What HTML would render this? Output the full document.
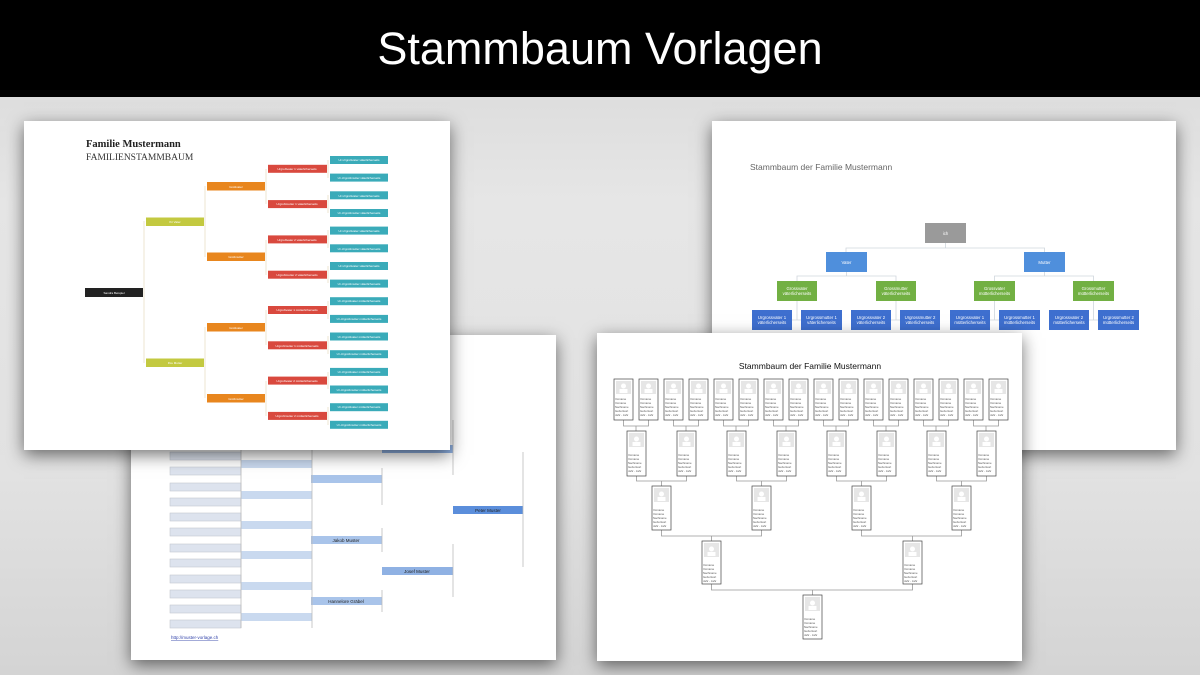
<!DOCTYPE html>
<html><head><meta charset="utf-8"><style>
html,body{margin:0;padding:0}
body{width:1200px;height:675px;position:relative;overflow:hidden;background:linear-gradient(#d6d6d6,#e6e6e6 30%,#e2e2e2 70%,#d4d4d4);font-family:"Liberation Sans",sans-serif}
#bar{position:absolute;left:0;top:0;width:1200px;height:97px;background:#000;color:#fff;font-size:45px;text-align:center;line-height:97px}
.pg{position:absolute;background:#fff;box-shadow:0 5px 16px rgba(0,0,0,.55)}
.pg svg{position:absolute;left:0;top:0}
</style></head><body>
<div id="bar">Stammbaum Vorlagen</div>

<!-- Page B -->
<div class="pg" style="left:131px;top:335px;width:425px;height:325px">
<svg width="425" height="325" viewBox="131 335 425 325" font-family="Liberation Sans, sans-serif">
<g fill="#dde3ee" stroke="#c4c8d0" stroke-width=".6">
<rect x="170" y="452" width="71" height="8"/><rect x="170" y="467" width="71" height="8"/><rect x="170" y="483" width="71" height="8"/><rect x="170" y="498" width="71" height="8"/><rect x="170" y="513" width="71" height="8"/><rect x="170" y="528" width="71" height="8"/><rect x="170" y="544" width="71" height="8"/><rect x="170" y="559" width="71" height="8"/><rect x="170" y="575" width="71" height="8"/><rect x="170" y="590" width="71" height="8"/><rect x="170" y="605" width="71" height="8"/><rect x="170" y="620" width="71" height="8"/>
</g>
<g fill="#c9d9ef"><rect x="241" y="460" width="71" height="8"/><rect x="241" y="491" width="71" height="8"/><rect x="241" y="521" width="71" height="8"/><rect x="241" y="551" width="71" height="8"/><rect x="241" y="582" width="71" height="8"/><rect x="241" y="613" width="71" height="8"/></g>
<g fill="#a9c4ea"><rect x="311" y="475" width="71" height="8"/><rect x="311" y="536" width="71" height="8"/><rect x="311" y="597" width="71" height="8"/></g>
<g fill="#8fb1e3"><rect x="382" y="445" width="71" height="8"/><rect x="382" y="567" width="71" height="8"/></g>
<rect x="453" y="506" width="70" height="8" fill="#5b8edb"/>
<g stroke="#bbb" stroke-width=".8">
<line x1="241" y1="450" x2="241" y2="628"/><line x1="312" y1="450" x2="312" y2="628"/>
<line x1="382" y1="468" x2="382" y2="505"/><line x1="382" y1="528" x2="382" y2="552"/><line x1="382" y1="590" x2="382" y2="612"/>
<line x1="453" y1="420" x2="453" y2="475"/><line x1="453" y1="544" x2="453" y2="597"/>
<line x1="523" y1="452" x2="523" y2="567"/>
</g>
<g font-size="4.5" fill="#222" text-anchor="middle">
<text x="346" y="542">Jakob Muster</text><text x="346" y="603">Hannelore Gräbel</text><text x="417" y="573">Josef Muster</text><text x="488" y="512">Peter Muster</text>
</g>
<text x="171" y="639" font-size="4.5" fill="#3344aa" text-decoration="underline">http://muster-vorlage.ch</text>
</svg></div>

<!-- Page A -->
<div class="pg" style="left:24px;top:121px;width:426px;height:329px">
<svg width="426" height="329" viewBox="24 121 426 329">
<text x="86" y="147" font-family="Liberation Serif, serif" font-weight="bold" font-size="10.5" fill="#222">Familie Mustermann</text>
<text x="86" y="160" font-family="Liberation Serif, serif" font-size="9.5" fill="#333">FAMILIENSTAMMBAUM</text>
<g stroke="#eadfc6" stroke-width=".8" fill="none">
<line x1="144" y1="221" x2="144" y2="363"/>
<line x1="205" y1="186" x2="205" y2="257"/><line x1="205" y1="327" x2="205" y2="398"/>
<line x1="266" y1="169" x2="266" y2="204"/><line x1="266" y1="240" x2="266" y2="275"/><line x1="266" y1="310" x2="266" y2="345"/><line x1="266" y1="381" x2="266" y2="416"/>
<line x1="328" y1="160" x2="328" y2="178"/><line x1="328" y1="195" x2="328" y2="213"/><line x1="328" y1="230" x2="328" y2="248"/><line x1="328" y1="266" x2="328" y2="283"/><line x1="328" y1="301" x2="328" y2="319"/><line x1="328" y1="336" x2="328" y2="354"/><line x1="328" y1="372" x2="328" y2="389"/><line x1="328" y1="407" x2="328" y2="425"/>
</g>
<rect x="85" y="288" width="58" height="9" fill="#222"/>
<g fill="#c3c940"><rect x="146" y="217.5" width="58" height="8.5"/><rect x="146" y="358.5" width="58" height="8.5"/></g>
<g fill="#e8861e"><rect x="207" y="182" width="58" height="8.5"/><rect x="207" y="252.5" width="58" height="8.5"/><rect x="207" y="323" width="58" height="8.5"/><rect x="207" y="394" width="58" height="8.5"/></g>
<g fill="#d9493e"><rect x="268" y="164.8" width="59" height="8"/><rect x="268" y="200.1" width="59" height="8"/><rect x="268" y="235.4" width="59" height="8"/><rect x="268" y="270.7" width="59" height="8"/><rect x="268" y="306" width="59" height="8"/><rect x="268" y="341.3" width="59" height="8"/><rect x="268" y="376.6" width="59" height="8"/><rect x="268" y="411.9" width="59" height="8"/></g>
<g fill="#3aabb9"><rect x="330" y="156" width="58" height="8"/><rect x="330" y="173.6" width="58" height="8"/><rect x="330" y="191.3" width="58" height="8"/><rect x="330" y="209" width="58" height="8"/><rect x="330" y="226.6" width="58" height="8"/><rect x="330" y="244.3" width="58" height="8"/><rect x="330" y="262" width="58" height="8"/><rect x="330" y="279.6" width="58" height="8"/><rect x="330" y="297.2" width="58" height="8"/><rect x="330" y="314.9" width="58" height="8"/><rect x="330" y="332.5" width="58" height="8"/><rect x="330" y="350.2" width="58" height="8"/><rect x="330" y="367.9" width="58" height="8"/><rect x="330" y="385.5" width="58" height="8"/><rect x="330" y="403.2" width="58" height="8"/><rect x="330" y="420.8" width="58" height="8"/></g>
<g font-family="Liberation Sans, sans-serif" font-size="3" fill="#fff" text-anchor="middle">
<text x="114" y="294">Sandra Beispiel</text><text x="175" y="223">Ihr Vater</text><text x="175" y="364">Ihre Mutter</text>
<text x="236" y="188">Großvater</text><text x="236" y="258">Großmutter</text><text x="236" y="329">Großvater</text><text x="236" y="400">Großmutter</text>
<text x="297" y="170">Urgroßvater 1 väterlicherseits</text><text x="297" y="205">Urgroßmutter 1 väterlicherseits</text><text x="297" y="241">Urgroßvater 2 väterlicherseits</text><text x="297" y="276">Urgroßmutter 2 väterlicherseits</text><text x="297" y="311">Urgroßvater 1 mütterlicherseits</text><text x="297" y="347">Urgroßmutter 1 mütterlicherseits</text><text x="297" y="382">Urgroßvater 2 mütterlicherseits</text><text x="297" y="417">Urgroßmutter 2 mütterlicherseits</text>
<text x="359" y="161">Ur-Urgroßvater väterlicherseits</text><text x="359" y="179">Ur-Urgroßmutter väterlicherseits</text><text x="359" y="197">Ur-Urgroßvater väterlicherseits</text><text x="359" y="214">Ur-Urgroßmutter väterlicherseits</text><text x="359" y="232">Ur-Urgroßvater väterlicherseits</text><text x="359" y="250">Ur-Urgroßmutter väterlicherseits</text><text x="359" y="267">Ur-Urgroßvater väterlicherseits</text><text x="359" y="285">Ur-Urgroßmutter väterlicherseits</text><text x="359" y="302">Ur-Urgroßvater mütterlicherseits</text><text x="359" y="320">Ur-Urgroßmutter mütterlicherseits</text><text x="359" y="338">Ur-Urgroßvater mütterlicherseits</text><text x="359" y="355">Ur-Urgroßmutter mütterlicherseits</text><text x="359" y="373">Ur-Urgroßvater mütterlicherseits</text><text x="359" y="391">Ur-Urgroßmutter mütterlicherseits</text><text x="359" y="408">Ur-Urgroßvater mütterlicherseits</text><text x="359" y="426">Ur-Urgroßmutter mütterlicherseits</text>
</g>
</svg></div>

<!-- Page C -->
<div class="pg" style="left:712px;top:121px;width:464px;height:329px">
<svg width="464" height="329" viewBox="712 121 464 329" font-family="Liberation Sans, sans-serif">
<text x="750" y="170" font-size="8.5" fill="#666">Stammbaum der Familie Mustermann</text>
<g stroke="#cfd6dc" stroke-width=".8" fill="none">
<path d="M945.5 243V248M846 252V248H1044.5V252"/>
<path d="M846.5 272V276M797 281V276H896V281"/><path d="M1044.5 272V276M994.5 281V276H1093.5V281"/>
<path d="M797 301V320H792M797 320H801"/><path d="M896 301V320H891M896 320H900"/><path d="M994.5 301V320H990M994.5 320H999"/><path d="M1093.5 301V320H1089M1093.5 320H1098"/>
</g>
<rect x="925" y="223" width="41" height="20" fill="#9a9a9a"/>
<g fill="#4f8fdc"><rect x="826" y="252" width="41" height="20"/><rect x="1024" y="252" width="41" height="20"/></g>
<g fill="#72b043"><rect x="777" y="281" width="40" height="20"/><rect x="876" y="281" width="40" height="20"/><rect x="974" y="281" width="41" height="20"/><rect x="1073" y="281" width="41" height="20"/></g>
<g fill="#3e6fcf"><rect x="752" y="310" width="40" height="20"/><rect x="801" y="310" width="41" height="20"/><rect x="851" y="310" width="40" height="20"/><rect x="900" y="310" width="40" height="20"/><rect x="950" y="310" width="40" height="20"/><rect x="999" y="310" width="41" height="20"/><rect x="1049" y="310" width="40" height="20"/><rect x="1098" y="310" width="41" height="20"/></g>
<g font-size="4.3" fill="#fff" text-anchor="middle">
<text x="945.5" y="235">ich</text><text x="846.5" y="264">Vater</text><text x="1044.5" y="264">Mutter</text>
<text x="797" y="290">Grossvater</text><text x="797" y="295">väterlicherseits</text><text x="896" y="290">Grossmutter</text><text x="896" y="295">väterlicherseits</text>
<text x="994.5" y="290">Grossvater</text><text x="994.5" y="295">mütterlicherseits</text><text x="1093.5" y="290">Grossmutter</text><text x="1093.5" y="295">mütterlicherseits</text>
<text x="772" y="319">Urgrossvater 1</text><text x="772" y="324">väterlicherseits</text><text x="821.5" y="319">Urgrossmutter 1</text><text x="821.5" y="324">väterlicherseits</text>
<text x="871" y="319">Urgrossvater 2</text><text x="871" y="324">väterlicherseits</text><text x="920" y="319">Urgrossmutter 2</text><text x="920" y="324">väterlicherseits</text>
<text x="970" y="319">Urgrossvater 1</text><text x="970" y="324">mütterlicherseits</text><text x="1019.5" y="319">Urgrossmutter 1</text><text x="1019.5" y="324">mütterlicherseits</text>
<text x="1069" y="319">Urgrossvater 2</text><text x="1069" y="324">mütterlicherseits</text><text x="1118.5" y="319">Urgrossmutter 2</text><text x="1118.5" y="324">mütterlicherseits</text>
</g>
</svg></div>

<!-- Page D -->
<div class="pg" style="left:597px;top:333px;width:425px;height:328px">
<svg width="425" height="328" viewBox="597 333 425 328" font-family="Liberation Sans, sans-serif">
<text x="810" y="369" font-size="8.5" fill="#111" text-anchor="middle">Stammbaum der Familie Mustermann</text>
<g stroke="#999" stroke-width=".8" fill="none">
<path d="M623.5 420V426H648.5V420M636 426V431"/><path d="M673.5 420V426H698.5V420M686 426V431"/><path d="M723.5 420V426H748.5V420M736 426V431"/><path d="M773.5 420V426H798.5V420M786 426V431"/><path d="M823.5 420V426H848.5V420M836 426V431"/><path d="M873.5 420V426H898.5V420M886 426V431"/><path d="M923.5 420V426H948.5V420M936 426V431"/><path d="M973.5 420V426H998.5V420M986 426V431"/>
<path d="M636.5 476V481H686.5V476M661.5 481V486"/><path d="M736.5 476V481H786.5V476M761.5 481V486"/><path d="M836.5 476V481H886.5V476M861.5 481V486"/><path d="M936.5 476V481H986.5V476M961.5 481V486"/>
<path d="M661.5 530V536H761.5V530M711.5 536V541"/><path d="M861.5 530V536H961.5V530M912.5 536V541"/>
<path d="M711.5 584V590H912.5V584M812.5 590V595"/>
</g>
<g stroke="#444" stroke-width=".7" fill="#fff">
<rect x="614" y="379" width="19" height="41"/><rect x="639" y="379" width="19" height="41"/><rect x="664" y="379" width="19" height="41"/><rect x="689" y="379" width="19" height="41"/><rect x="714" y="379" width="19" height="41"/><rect x="739" y="379" width="19" height="41"/><rect x="764" y="379" width="19" height="41"/><rect x="789" y="379" width="19" height="41"/><rect x="814" y="379" width="19" height="41"/><rect x="839" y="379" width="19" height="41"/><rect x="864" y="379" width="19" height="41"/><rect x="889" y="379" width="19" height="41"/><rect x="914" y="379" width="19" height="41"/><rect x="939" y="379" width="19" height="41"/><rect x="964" y="379" width="19" height="41"/><rect x="989" y="379" width="19" height="41"/>
<rect x="627" y="431" width="19" height="45"/><rect x="677" y="431" width="19" height="45"/><rect x="727" y="431" width="19" height="45"/><rect x="777" y="431" width="19" height="45"/><rect x="827" y="431" width="19" height="45"/><rect x="877" y="431" width="19" height="45"/><rect x="927" y="431" width="19" height="45"/><rect x="977" y="431" width="19" height="45"/>
<rect x="652" y="486" width="19" height="44"/><rect x="752" y="486" width="19" height="44"/><rect x="852" y="486" width="19" height="44"/><rect x="952" y="486" width="19" height="44"/>
<rect x="702" y="541" width="19" height="43"/><rect x="903" y="541" width="19" height="43"/>
<rect x="803" y="595" width="19" height="44"/>
</g>
<g fill="#e6e6e6">
<rect x="616" y="381" width="15" height="13"/><rect x="641" y="381" width="15" height="13"/><rect x="666" y="381" width="15" height="13"/><rect x="691" y="381" width="15" height="13"/><rect x="716" y="381" width="15" height="13"/><rect x="741" y="381" width="15" height="13"/><rect x="766" y="381" width="15" height="13"/><rect x="791" y="381" width="15" height="13"/><rect x="816" y="381" width="15" height="13"/><rect x="841" y="381" width="15" height="13"/><rect x="866" y="381" width="15" height="13"/><rect x="891" y="381" width="15" height="13"/><rect x="916" y="381" width="15" height="13"/><rect x="941" y="381" width="15" height="13"/><rect x="966" y="381" width="15" height="13"/><rect x="991" y="381" width="15" height="13"/>
<rect x="629" y="433" width="15" height="14"/><rect x="679" y="433" width="15" height="14"/><rect x="729" y="433" width="15" height="14"/><rect x="779" y="433" width="15" height="14"/><rect x="829" y="433" width="15" height="14"/><rect x="879" y="433" width="15" height="14"/><rect x="929" y="433" width="15" height="14"/><rect x="979" y="433" width="15" height="14"/>
<rect x="654" y="488" width="15" height="14"/><rect x="754" y="488" width="15" height="14"/><rect x="854" y="488" width="15" height="14"/><rect x="954" y="488" width="15" height="14"/>
<rect x="704" y="543" width="15" height="14"/><rect x="905" y="543" width="15" height="14"/><rect x="805" y="597" width="15" height="14"/>
</g>
<g fill="#fff">
<circle cx="623.5" cy="386" r="2.5"/><circle cx="648.5" cy="386" r="2.5"/><circle cx="673.5" cy="386" r="2.5"/><circle cx="698.5" cy="386" r="2.5"/><circle cx="723.5" cy="386" r="2.5"/><circle cx="748.5" cy="386" r="2.5"/><circle cx="773.5" cy="386" r="2.5"/><circle cx="798.5" cy="386" r="2.5"/><circle cx="823.5" cy="386" r="2.5"/><circle cx="848.5" cy="386" r="2.5"/><circle cx="873.5" cy="386" r="2.5"/><circle cx="898.5" cy="386" r="2.5"/><circle cx="923.5" cy="386" r="2.5"/><circle cx="948.5" cy="386" r="2.5"/><circle cx="973.5" cy="386" r="2.5"/><circle cx="998.5" cy="386" r="2.5"/>
<circle cx="636.5" cy="439" r="2.5"/><circle cx="686.5" cy="439" r="2.5"/><circle cx="736.5" cy="439" r="2.5"/><circle cx="786.5" cy="439" r="2.5"/><circle cx="836.5" cy="439" r="2.5"/><circle cx="886.5" cy="439" r="2.5"/><circle cx="936.5" cy="439" r="2.5"/><circle cx="986.5" cy="439" r="2.5"/>
<circle cx="661.5" cy="494" r="2.5"/><circle cx="761.5" cy="494" r="2.5"/><circle cx="861.5" cy="494" r="2.5"/><circle cx="961.5" cy="494" r="2.5"/>
<circle cx="711.5" cy="549" r="2.5"/><circle cx="912.5" cy="549" r="2.5"/><circle cx="812.5" cy="603" r="2.5"/>
</g>
<g fill="#fff">
<rect x="619.5" y="389" width="8" height="4"/><rect x="644.5" y="389" width="8" height="4"/><rect x="669.5" y="389" width="8" height="4"/><rect x="694.5" y="389" width="8" height="4"/><rect x="719.5" y="389" width="8" height="4"/><rect x="744.5" y="389" width="8" height="4"/><rect x="769.5" y="389" width="8" height="4"/><rect x="794.5" y="389" width="8" height="4"/><rect x="819.5" y="389" width="8" height="4"/><rect x="844.5" y="389" width="8" height="4"/><rect x="869.5" y="389" width="8" height="4"/><rect x="894.5" y="389" width="8" height="4"/><rect x="919.5" y="389" width="8" height="4"/><rect x="944.5" y="389" width="8" height="4"/><rect x="969.5" y="389" width="8" height="4"/><rect x="994.5" y="389" width="8" height="4"/>
<rect x="632.5" y="442" width="8" height="4"/><rect x="682.5" y="442" width="8" height="4"/><rect x="732.5" y="442" width="8" height="4"/><rect x="782.5" y="442" width="8" height="4"/><rect x="832.5" y="442" width="8" height="4"/><rect x="882.5" y="442" width="8" height="4"/><rect x="932.5" y="442" width="8" height="4"/><rect x="982.5" y="442" width="8" height="4"/>
<rect x="657.5" y="497" width="8" height="4"/><rect x="757.5" y="497" width="8" height="4"/><rect x="857.5" y="497" width="8" height="4"/><rect x="957.5" y="497" width="8" height="4"/>
<rect x="707.5" y="552" width="8" height="4"/><rect x="908.5" y="552" width="8" height="4"/><rect x="808.5" y="606" width="8" height="4"/>
</g>
<g fill="#555" font-size="2.8">
<text x="615" y="400">Vorname</text><text x="640" y="400">Vorname</text><text x="665" y="400">Vorname</text><text x="690" y="400">Vorname</text><text x="715" y="400">Vorname</text><text x="740" y="400">Vorname</text><text x="765" y="400">Vorname</text><text x="790" y="400">Vorname</text><text x="815" y="400">Vorname</text><text x="840" y="400">Vorname</text><text x="865" y="400">Vorname</text><text x="890" y="400">Vorname</text><text x="915" y="400">Vorname</text><text x="940" y="400">Vorname</text><text x="965" y="400">Vorname</text><text x="990" y="400">Vorname</text>
<text x="615" y="404">Vorname</text><text x="640" y="404">Vorname</text><text x="665" y="404">Vorname</text><text x="690" y="404">Vorname</text><text x="715" y="404">Vorname</text><text x="740" y="404">Vorname</text><text x="765" y="404">Vorname</text><text x="790" y="404">Vorname</text><text x="815" y="404">Vorname</text><text x="840" y="404">Vorname</text><text x="865" y="404">Vorname</text><text x="890" y="404">Vorname</text><text x="915" y="404">Vorname</text><text x="940" y="404">Vorname</text><text x="965" y="404">Vorname</text><text x="990" y="404">Vorname</text>
<text x="615" y="408">Nachname</text><text x="640" y="408">Nachname</text><text x="665" y="408">Nachname</text><text x="690" y="408">Nachname</text><text x="715" y="408">Nachname</text><text x="740" y="408">Nachname</text><text x="765" y="408">Nachname</text><text x="790" y="408">Nachname</text><text x="815" y="408">Nachname</text><text x="840" y="408">Nachname</text><text x="865" y="408">Nachname</text><text x="890" y="408">Nachname</text><text x="915" y="408">Nachname</text><text x="940" y="408">Nachname</text><text x="965" y="408">Nachname</text><text x="990" y="408">Nachname</text>
<text x="615" y="412">Geburtsort</text><text x="640" y="412">Geburtsort</text><text x="665" y="412">Geburtsort</text><text x="690" y="412">Geburtsort</text><text x="715" y="412">Geburtsort</text><text x="740" y="412">Geburtsort</text><text x="765" y="412">Geburtsort</text><text x="790" y="412">Geburtsort</text><text x="815" y="412">Geburtsort</text><text x="840" y="412">Geburtsort</text><text x="865" y="412">Geburtsort</text><text x="890" y="412">Geburtsort</text><text x="915" y="412">Geburtsort</text><text x="940" y="412">Geburtsort</text><text x="965" y="412">Geburtsort</text><text x="990" y="412">Geburtsort</text>
<text x="615" y="416">Jahr - Jahr</text><text x="640" y="416">Jahr - Jahr</text><text x="665" y="416">Jahr - Jahr</text><text x="690" y="416">Jahr - Jahr</text><text x="715" y="416">Jahr - Jahr</text><text x="740" y="416">Jahr - Jahr</text><text x="765" y="416">Jahr - Jahr</text><text x="790" y="416">Jahr - Jahr</text><text x="815" y="416">Jahr - Jahr</text><text x="840" y="416">Jahr - Jahr</text><text x="865" y="416">Jahr - Jahr</text><text x="890" y="416">Jahr - Jahr</text><text x="915" y="416">Jahr - Jahr</text><text x="940" y="416">Jahr - Jahr</text><text x="965" y="416">Jahr - Jahr</text><text x="990" y="416">Jahr - Jahr</text>
<text x="628" y="456">Vorname</text><text x="678" y="456">Vorname</text><text x="728" y="456">Vorname</text><text x="778" y="456">Vorname</text><text x="828" y="456">Vorname</text><text x="878" y="456">Vorname</text><text x="928" y="456">Vorname</text><text x="978" y="456">Vorname</text>
<text x="628" y="460">Vorname</text><text x="678" y="460">Vorname</text><text x="728" y="460">Vorname</text><text x="778" y="460">Vorname</text><text x="828" y="460">Vorname</text><text x="878" y="460">Vorname</text><text x="928" y="460">Vorname</text><text x="978" y="460">Vorname</text>
<text x="628" y="464">Nachname</text><text x="678" y="464">Nachname</text><text x="728" y="464">Nachname</text><text x="778" y="464">Nachname</text><text x="828" y="464">Nachname</text><text x="878" y="464">Nachname</text><text x="928" y="464">Nachname</text><text x="978" y="464">Nachname</text>
<text x="628" y="468">Geburtsort</text><text x="678" y="468">Geburtsort</text><text x="728" y="468">Geburtsort</text><text x="778" y="468">Geburtsort</text><text x="828" y="468">Geburtsort</text><text x="878" y="468">Geburtsort</text><text x="928" y="468">Geburtsort</text><text x="978" y="468">Geburtsort</text>
<text x="628" y="472">Jahr - Jahr</text><text x="678" y="472">Jahr - Jahr</text><text x="728" y="472">Jahr - Jahr</text><text x="778" y="472">Jahr - Jahr</text><text x="828" y="472">Jahr - Jahr</text><text x="878" y="472">Jahr - Jahr</text><text x="928" y="472">Jahr - Jahr</text><text x="978" y="472">Jahr - Jahr</text>
<text x="653" y="511">Vorname</text><text x="753" y="511">Vorname</text><text x="853" y="511">Vorname</text><text x="953" y="511">Vorname</text>
<text x="653" y="515">Vorname</text><text x="753" y="515">Vorname</text><text x="853" y="515">Vorname</text><text x="953" y="515">Vorname</text>
<text x="653" y="519">Nachname</text><text x="753" y="519">Nachname</text><text x="853" y="519">Nachname</text><text x="953" y="519">Nachname</text>
<text x="653" y="523">Geburtsort</text><text x="753" y="523">Geburtsort</text><text x="853" y="523">Geburtsort</text><text x="953" y="523">Geburtsort</text>
<text x="653" y="527">Jahr - Jahr</text><text x="753" y="527">Jahr - Jahr</text><text x="853" y="527">Jahr - Jahr</text><text x="953" y="527">Jahr - Jahr</text>
<text x="703" y="566">Vorname</text><text x="904" y="566">Vorname</text><text x="703" y="570">Vorname</text><text x="904" y="570">Vorname</text><text x="703" y="574">Nachname</text><text x="904" y="574">Nachname</text><text x="703" y="578">Geburtsort</text><text x="904" y="578">Geburtsort</text><text x="703" y="582">Jahr - Jahr</text><text x="904" y="582">Jahr - Jahr</text>
<text x="804" y="620">Vorname</text><text x="804" y="624">Vorname</text><text x="804" y="628">Nachname</text><text x="804" y="632">Geburtsort</text><text x="804" y="636">Jahr - Jahr</text>
</g>
</svg></div>
</body></html>
